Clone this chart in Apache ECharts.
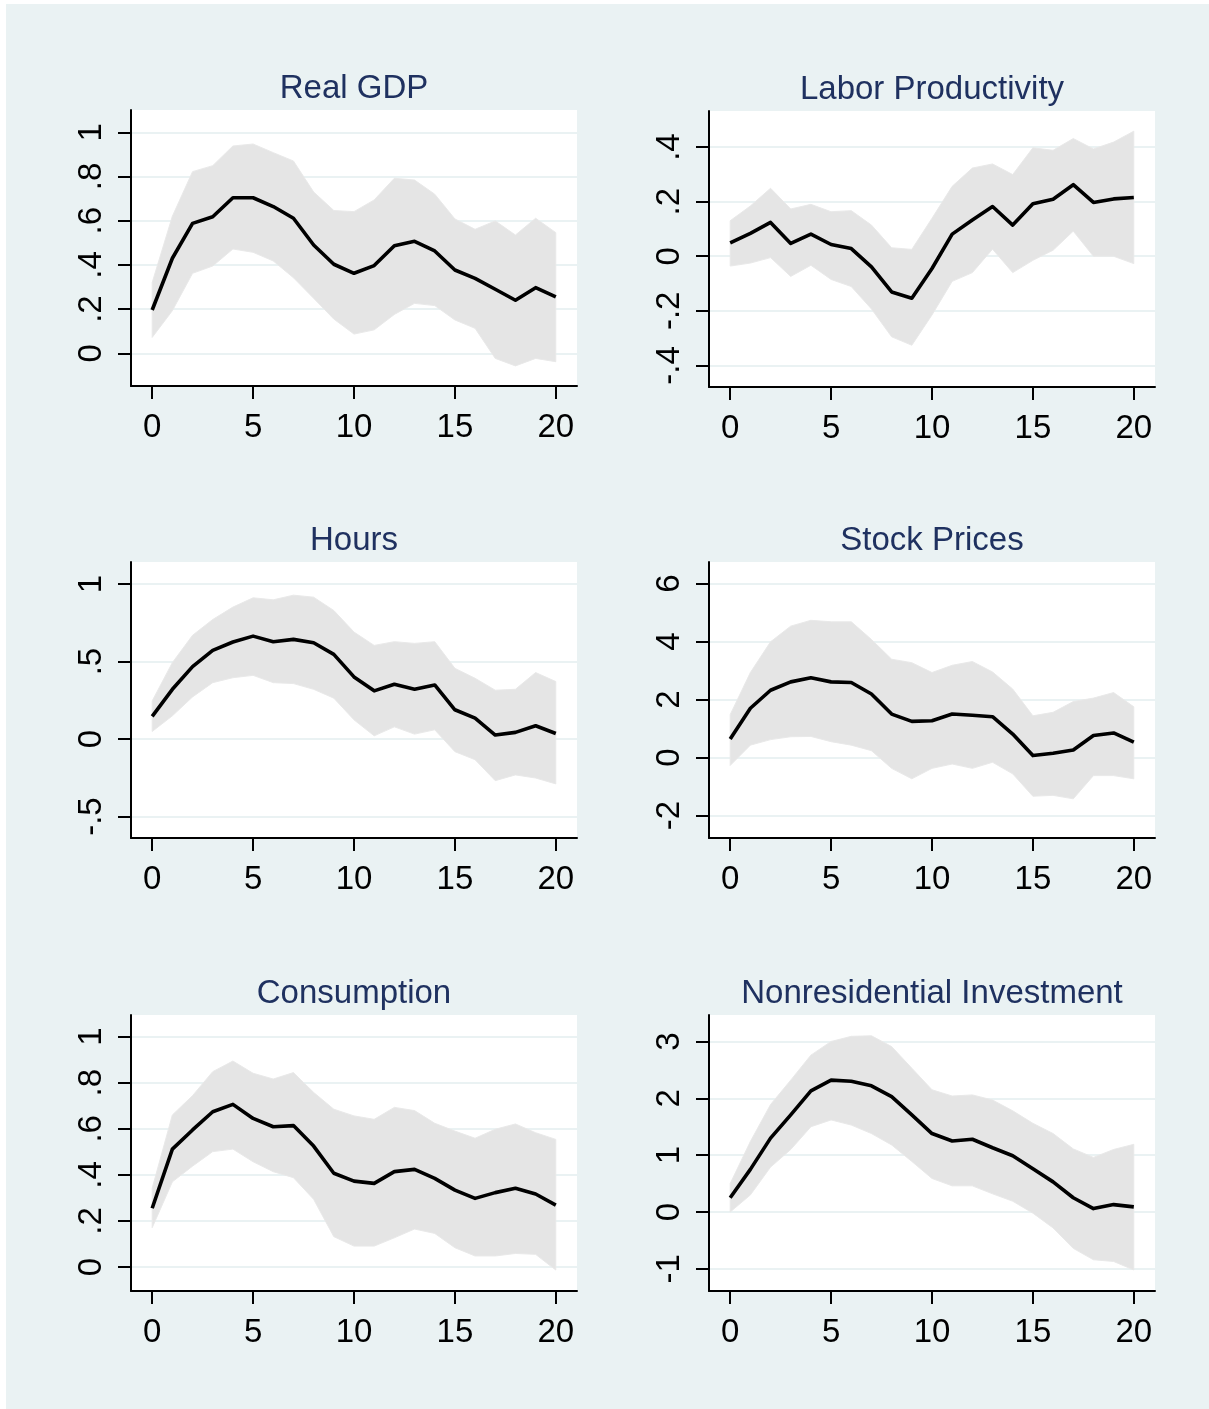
<!DOCTYPE html>
<html>
<head>
<meta charset="utf-8">
<script src="https://cdn.jsdelivr.net/npm/echarts@6/dist/echarts.min.js"></script>
<style>
  html, body { margin: 0; padding: 0; background: #ffffff; }
  #chart { width: 1209px; height: 1409px; }
</style>
</head>
<body>
<div id="chart"></div>
<script>
// ---------------- data ----------------
const horizons = [0,1,2,3,4,5,6,7,8,9,10,11,12,13,14,15,16,17,18,19,20];
const xTicks = [0, 5, 10, 15, 20];

const panelTitles = ['Real GDP', 'Labor Productivity', 'Hours', 'Stock Prices', 'Consumption', 'Nonresidential Investment'];

const gdpMid = [0.196,0.43,0.588,0.618,0.704,0.704,0.664,0.611,0.49,0.403,0.362,0.397,0.487,0.507,0.463,0.377,0.339,0.29,0.24,0.297,0.255];
const gdpHi  = [0.32,0.62,0.822,0.849,0.938,0.947,0.908,0.87,0.73,0.646,0.641,0.694,0.792,0.784,0.72,0.608,0.561,0.599,0.535,0.611,0.546];
const gdpLo  = [0.072,0.193,0.362,0.395,0.472,0.457,0.418,0.342,0.249,0.155,0.087,0.106,0.176,0.226,0.216,0.151,0.113,-0.023,-0.057,-0.023,-0.038];
const gdpTicks = [0, 0.2, 0.4, 0.6, 0.8, 1];

const lpMid = [0.049,0.084,0.124,0.047,0.081,0.043,0.028,-0.039,-0.131,-0.154,-0.045,0.081,0.133,0.182,0.114,0.192,0.209,0.262,0.197,0.21,0.215];
const lpHi  = [0.13,0.184,0.249,0.173,0.19,0.163,0.167,0.114,0.031,0.025,0.139,0.256,0.323,0.338,0.299,0.397,0.388,0.431,0.393,0.418,0.458];
const lpLo  = [-0.036,-0.025,-0.005,-0.074,-0.033,-0.085,-0.111,-0.193,-0.295,-0.326,-0.215,-0.092,-0.06,0.026,-0.06,-0.015,0.022,0.092,0,0,-0.027];
const lpTicks = [-0.4, -0.2, 0, 0.2, 0.4];

const hoursMid = [0.146,0.321,0.467,0.572,0.626,0.664,0.628,0.643,0.621,0.546,0.401,0.311,0.354,0.321,0.349,0.189,0.135,0.026,0.043,0.086,0.036];
const hoursHi  = [0.246,0.493,0.669,0.771,0.851,0.911,0.898,0.928,0.915,0.829,0.69,0.604,0.628,0.617,0.628,0.456,0.392,0.315,0.321,0.429,0.371];
const hoursLo  = [0.049,0.15,0.272,0.364,0.396,0.411,0.364,0.358,0.321,0.264,0.124,0.021,0.079,0.032,0.06,-0.081,-0.133,-0.268,-0.231,-0.251,-0.289];
const hoursTicks = [-0.5, 0, 0.5, 1];

const stockMid = [0.64,1.70,2.32,2.61,2.75,2.61,2.59,2.19,1.50,1.25,1.27,1.50,1.46,1.41,0.81,0.07,0.15,0.26,0.76,0.85,0.53];
const stockHi  = [1.48,2.93,3.99,4.53,4.73,4.68,4.68,4.07,3.39,3.27,2.93,3.18,3.31,2.95,2.36,1.44,1.56,1.93,2.05,2.24,1.75];
const stockLo  = [-0.27,0.43,0.62,0.72,0.73,0.55,0.43,0.24,-0.37,-0.73,-0.37,-0.22,-0.37,-0.16,-0.56,-1.33,-1.30,-1.42,-0.62,-0.62,-0.73];
const stockTicks = [-2, 0, 2, 4, 6];

const consMid = [0.255,0.512,0.595,0.674,0.706,0.645,0.609,0.614,0.525,0.407,0.373,0.363,0.414,0.424,0.385,0.334,0.298,0.323,0.342,0.317,0.269];
const consHi  = [0.342,0.66,0.744,0.848,0.894,0.841,0.816,0.844,0.758,0.685,0.656,0.641,0.693,0.679,0.624,0.59,0.559,0.598,0.621,0.583,0.554];
const consLo  = [0.171,0.37,0.438,0.501,0.512,0.457,0.414,0.388,0.294,0.132,0.091,0.091,0.127,0.165,0.146,0.084,0.048,0.048,0.059,0.055,-0.013];
const consTicks = [0, 0.2, 0.4, 0.6, 0.8, 1];

const invMid = [0.25,0.75,1.30,1.71,2.13,2.32,2.30,2.22,2.03,1.71,1.38,1.25,1.28,1.13,0.99,0.76,0.53,0.25,0.06,0.13,0.09];
const invHi  = [0.50,1.24,1.89,2.32,2.76,3.00,3.09,3.10,2.91,2.53,2.15,2.04,2.06,1.97,1.78,1.56,1.38,1.11,0.96,1.10,1.19];
const invLo  = [0.0,0.30,0.79,1.10,1.50,1.62,1.53,1.38,1.18,0.89,0.59,0.46,0.46,0.32,0.19,-0.02,-0.28,-0.64,-0.84,-0.87,-1.02];
const invTicks = [-1, 0, 1, 2, 3];

// ---------------- layout / style ----------------
const FONT = "'Liberation Sans', Arial, Helvetica, sans-serif";
const BG = '#eaf2f3';
const GRID_LINE = '#eaf2f3';
const BAND = '#e5e5e5';
const TITLE_COLOR = '#1f3160';

const panels = [
  { mid: gdpMid,   hi: gdpHi,   lo: gdpLo,   ticks: gdpTicks,   ymin: -0.148, ymax: 1.101, left: 131, top: 110 },
  { mid: lpMid,    hi: lpHi,    lo: lpLo,    ticks: lpTicks,    ymin: -0.479, ymax: 0.532, left: 709, top: 111 },
  { mid: hoursMid, hi: hoursHi, lo: hoursLo, ticks: hoursTicks, ymin: -0.638, ymax: 1.142, left: 131, top: 562 },
  { mid: stockMid, hi: stockHi, lo: stockLo, ticks: stockTicks, ymin: -2.77,  ymax: 6.74,  left: 709, top: 562 },
  { mid: consMid,  hi: consHi,  lo: consLo,  ticks: consTicks,  ymin: -0.104, ymax: 1.094, left: 131, top: 1015 },
  { mid: invMid,   hi: invHi,   lo: invLo,   ticks: invTicks,   ymin: -1.39,  ymax: 3.466, left: 709, top: 1015 }
];
const PW = 446, PH = 276;

function stataLabel(v) {
  let s = String(Math.round(v * 1000) / 1000);
  return s.replace(/^(-?)0\./, '$1.');
}

const grids = [], xAxes = [], yAxes = [], series = [], titles = [];
panels.forEach((p, i) => {
  grids.push({ left: p.left, top: p.top, width: PW, height: PH, show: true, backgroundColor: '#ffffff', borderWidth: 0, containLabel: false });
  xAxes.push({
    type: 'value', gridIndex: i, min: -1.05, max: 21.05,
    axisLine: { show: true, onZero: false, lineStyle: { color: '#000', width: 2 } },
    axisTick: { show: true, length: 13, lineStyle: { color: '#000', width: 2 }, customValues: xTicks },
    axisLabel: { show: true, customValues: xTicks, fontFamily: FONT, fontSize: 33, color: '#000', margin: 25, formatter: v => stataLabel(v) },
    splitLine: { show: false }
  });
  yAxes.push({
    type: 'value', gridIndex: i, min: p.ymin, max: p.ymax,
    axisLine: { show: true, onZero: false, lineStyle: { color: '#000', width: 2 } },
    axisTick: { show: true, length: 13, lineStyle: { color: '#000', width: 2 }, customValues: p.ticks },
    axisLabel: { show: true, customValues: p.ticks, rotate: 90, fontFamily: FONT, fontSize: 33, color: '#000', margin: 23, formatter: v => stataLabel(v) },
    splitLine: { show: true, lineStyle: { color: GRID_LINE, width: 2 } }
  });
  // confidence band as a polygon placed through the axes' scales
  series.push({
    type: 'custom', xAxisIndex: i, yAxisIndex: i, data: [[horizons[0], p.lo[0]]], silent: true, z: 1,
    renderItem: (params, api) => {
      const pts = [];
      horizons.forEach((h, k) => pts.push(api.coord([h, p.hi[k]])));
      for (let k = horizons.length - 1; k >= 0; k--) pts.push(api.coord([horizons[k], p.lo[k]]));
      return { type: 'polygon', shape: { points: pts }, style: { fill: BAND, stroke: '#e9e9e9', lineWidth: 1 } };
    }
  });
  series.push({
    type: 'line', xAxisIndex: i, yAxisIndex: i, data: horizons.map((h, k) => [h, p.mid[k]]),
    symbol: 'none', silent: true, lineStyle: { color: '#000', width: 3.6, join: 'round' }, z: 3
  });
  titles.push({
    text: panelTitles[i], left: p.left + PW / 2, top: p.top - 38, textAlign: 'center', padding: 0,
    textStyle: { fontFamily: FONT, fontSize: 33, fontWeight: 'normal', color: TITLE_COLOR }
  });
});

const chart = echarts.init(document.getElementById('chart'), null, { renderer: 'canvas' });
chart.setOption({
  animation: false,
  backgroundColor: '#ffffff',
  graphic: [{ type: 'rect', shape: { x: 6, y: 4, width: 1203, height: 1405 }, style: { fill: BG }, z: -10, silent: true }],
  title: titles,
  grid: grids,
  xAxis: xAxes,
  yAxis: yAxes,
  series: series
});
</script>
</body>
</html>
